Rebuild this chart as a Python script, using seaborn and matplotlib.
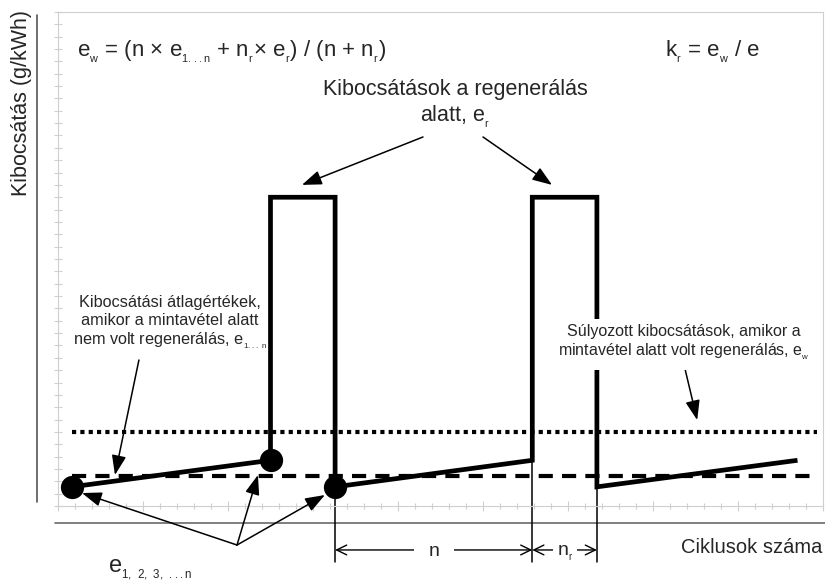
import numpy as np
import pandas as pd
import matplotlib
matplotlib.use("Agg")
import matplotlib.pyplot as plt
import seaborn as sns

# Emission over the number of test cycles for a periodically regenerating system
cycle_start = [0.8, 16.3, 31.7]     # first cycle after each regeneration
cycle_end = [12.5, 27.9, 43.5]      # last cycle before the next regeneration
e_cycle_start = [1.55, 1.55, 1.55]  # emission right after regeneration
e_cycle_end = [3.7, 3.7, 3.7]       # emission just before regeneration
e_regen = 25.0                      # emission during regeneration, e_r
e_mean = 2.4                        # mean emission without regeneration, e_1...n
e_weighted = 6.0                    # weighted emission, e_w
line_span = [0.82, 44.4]            # extent of the mean line
dotted_span = [0.82, 44.65]         # extent of the weighted line
sample_cycles = [0.8, 12.5, 16.3]   # measured cycles e_1, e_2, e_3
sample_values = [1.55, 3.7, 1.55]

sns.set_theme(style="white")
plt.rcParams["font.family"] = ["Liberation Sans", "DejaVu Sans"]
plt.rcParams["mathtext.default"] = "regular"


def sub(s):
    """Small, low subscript as used in the formulas."""
    return "$_{_{" + s + "}}$"


# emission trace: slow rise between regenerations, plateau during regeneration
xs, ys = [], []
for i in range(len(cycle_start)):
    xs += [cycle_start[i], cycle_end[i]]
    ys += [e_cycle_start[i], e_cycle_end[i]]
    if i + 1 < len(cycle_start):
        xs += [cycle_end[i], cycle_start[i + 1]]
        ys += [e_regen, e_regen]
trace = pd.DataFrame({"cycle": xs, "emission": ys})

fig = plt.figure(figsize=(8.25, 5.82), dpi=100)
ax = fig.add_axes([58 / 825, 76 / 582, 765 / 825, 494 / 582])

# reference levels
ax.plot(dotted_span, [e_weighted, e_weighted], color="black", lw=3,
        dashes=(1, 1), dash_capstyle="butt", zorder=2)
ax.plot(line_span, [e_mean, e_mean], color="black", lw=3,
        dashes=(3.4, 2.2), dash_capstyle="butt", zorder=2)

sns.lineplot(data=trace, x="cycle", y="emission", sort=False, estimator=None,
             color="black", lw=3.4, ax=ax, zorder=3)
trace_line = ax.lines[-1]
trace_line.set_solid_joinstyle("miter")
trace_line.set_solid_capstyle("butt")

sns.scatterplot(x=sample_cycles, y=sample_values, s=280, color="black",
                linewidth=0, ax=ax, zorder=5, clip_on=False)

ax.set_xlim(0, 45)
ax.set_ylim(0, 40)
ax.set_xlabel("")
ax.set_ylabel("")

grid_gray = "#cfcfcf"
for sp in ax.spines.values():
    sp.set_color(grid_gray)
    sp.set_linewidth(0.8)
ax.set_xticks(np.arange(0, 46, 5))
ax.set_xticks(np.arange(0, 46, 1), minor=True)
ax.set_yticks(np.arange(0, 41, 1))
ax.set_xticklabels([])
ax.set_yticklabels([])
ax.tick_params(axis="x", which="major", bottom=True, direction="inout",
               length=7, width=0.8, color=grid_gray)
ax.tick_params(axis="x", which="minor", bottom=True, direction="inout",
               length=5, width=0.8, color=grid_gray)
ax.tick_params(axis="y", which="both", left=True, direction="inout",
               length=6, width=0.8, color=grid_gray)

# axis lines of the diagram
ax.plot([-0.004, 1.003], [-0.0344, -0.0344], transform=ax.transAxes,
        color="#6a6a6a", lw=1.2, clip_on=False)
ax.plot([-0.0275, -0.0275], [0.008, 0.994], transform=ax.transAxes,
        color="#555555", lw=1.2, clip_on=False)

# extension lines and cycle-count dimensions
dim_y = -3.56
ext_bottom = -4.55
for xv, yv in [(cycle_start[1], e_cycle_start[1]),
               (cycle_end[1], e_cycle_end[1]),
               (cycle_start[2], e_cycle_start[2])]:
    ax.plot([xv, xv], [yv, ext_bottom], color="black", lw=1.1,
            clip_on=False, zorder=2)

dim_arrow = dict(arrowstyle="<->,head_length=0.45,head_width=0.22",
                 color="black", lw=1.0, shrinkA=0, shrinkB=0,
                 mutation_scale=16)
ax.annotate("", xy=(cycle_start[1], dim_y), xytext=(cycle_end[1], dim_y),
            arrowprops=dim_arrow, annotation_clip=False)
ax.annotate("", xy=(cycle_end[1], dim_y), xytext=(cycle_start[2], dim_y),
            arrowprops=dim_arrow, annotation_clip=False)
ax.text((cycle_start[1] + cycle_end[1]) / 2, -4.05, "n", fontsize=14,
        ha="center", va="baseline",
        bbox=dict(boxstyle="square,pad=0.75", fc="white", ec="none"))
ax.text((cycle_end[1] + cycle_start[2]) / 2, -4.05, "n" + sub("r"),
        fontsize=14, ha="center", va="baseline",
        bbox=dict(boxstyle="square,pad=0.2", fc="white", ec="none"))
ax.text(44.94, -3.8, "Ciklusok száma", fontsize=14.5, ha="right",
        va="baseline")

# formulas
ax.text(1.12, 36.36,
        "e" + sub("w") + " = (n × e" + sub("1...n") + " + n" + sub("r")
        + "× e" + sub("r") + ") / (n + n" + sub("r") + ")",
        fontsize=16, ha="left", va="baseline")
ax.text(35.7, 36.36, "k" + sub("r") + " = e" + sub("w") + " / e",
        fontsize=16, ha="left", va="baseline")

# annotations
head = dict(arrowstyle="-|>,head_length=0.6,head_width=0.22", color="black",
            lw=1.1, shrinkA=0, shrinkB=0, mutation_scale=20)
ax.text(23.35, 32.5, "Kibocsátások a regenerálás\nalatt, e" + sub("r"),
        fontsize=15.5, ha="center", va="center", multialignment="center",
        linespacing=1.2)
ax.annotate("", xy=(14.35, 26.0), xytext=(21.47, 29.88), arrowprops=head)
ax.annotate("", xy=(29.06, 26.0), xytext=(25.0, 29.88), arrowprops=head)

ax.text(6.59, 14.8,
        "Kibocsátási átlagértékek,\namikor a mintavétel alatt\n"
        "nem volt regenerálás, e" + sub("1...\\ n"),
        fontsize=11.7, ha="center", va="center", multialignment="center",
        linespacing=1.2)
ax.annotate("", xy=(3.35, 2.51), xytext=(4.76, 11.82), arrowprops=head)

ax.text(36.8, 13.2,
        "Súlyozott kibocsátások, amikor a\n"
        "mintavétel alatt volt regenerálás, e" + sub("w"),
        fontsize=11.5, ha="center", va="center", multialignment="center",
        linespacing=1.2, zorder=6,
        bbox=dict(boxstyle="square,pad=0.5", fc="white", ec="none"))
ax.annotate("", xy=(37.6, 6.96), xytext=(36.9, 11.0), arrowprops=head)

# measured points e_1, e_2, e_3 ...
tail = (10.53, -3.16)
for tip in [(1.41, 1.05), (11.76, 2.51), (15.7, 0.89)]:
    ax.annotate("", xy=tip, xytext=tail, arrowprops=head,
                annotation_clip=False)
ax.text(2.94, -5.45, "e" + sub("1,\\ 2,\\ 3,\\ ...n"), fontsize=17,
        ha="left", va="baseline")

fig.text(22 / 825, 1 - 103 / 582, "Kibocsátás (g/kWh)", fontsize=15.5,
         rotation=90, ha="center", va="center")

fig.savefig("out.png", dpi=100, facecolor="white")
